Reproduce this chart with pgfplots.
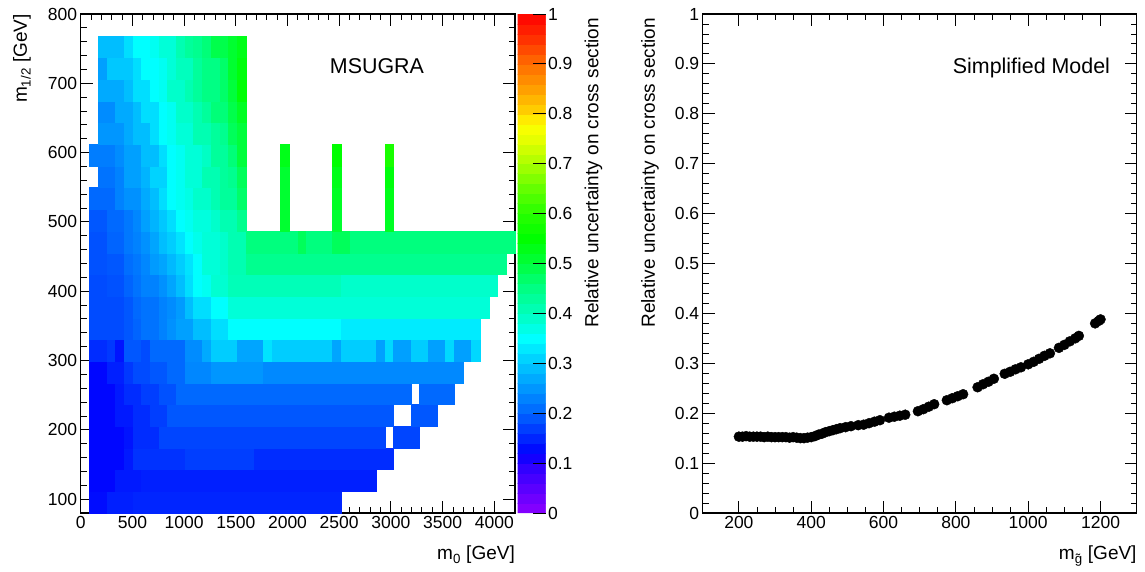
\documentclass[border=0pt]{standalone}
\usepackage{fontspec}
\setmainfont{Liberation Sans}
\usepackage{pgfplots}
\usepackage{pgfplotstable}
\pgfplotsset{compat=1.18}

% heat map cells: centre x, centre y, width (GeV), value
\pgfplotstableread{
x y w c
168 95.65 168 0.13
378 95.65 252 0.145
1512 95.65 2016 0.15
210 126.96 252 0.125
462 126.96 252 0.14
1722 126.96 2268 0.145
252 158.26 336 0.125
462 158.26 84 0.14
756 158.26 504 0.16
1344 158.26 672 0.17
2352 158.26 1344 0.155
252 189.57 336 0.125
462 189.57 84 0.135
630 189.57 252 0.155
1848 189.57 2184 0.175
3150 189.57 252 0.175
210 220.87 252 0.125
420 220.87 168 0.14
588 220.87 168 0.155
756 220.87 168 0.17
1932 220.87 2184 0.19
3318 220.87 252 0.19
210 252.17 252 0.125
378 252.17 84 0.14
504 252.17 168 0.155
672 252.17 168 0.17
840 252.17 168 0.185
2058 252.17 2268 0.205
3444 252.17 336 0.205
168 283.48 168 0.125
336 283.48 168 0.145
462 283.48 84 0.165
588 283.48 168 0.18
756 283.48 168 0.19
924 283.48 168 0.205
1134 283.48 252 0.235
1512 283.48 504 0.25
2730 283.48 1932 0.237
168 314.78 168 0.155
294 314.78 84 0.165
378 314.78 84 0.135
504 314.78 168 0.19
630 314.78 84 0.18
840 314.78 336 0.205
1092 314.78 168 0.24
1218 314.78 84 0.27
1386 314.78 252 0.305
1638 314.78 252 0.265
1806 314.78 84 0.325
2142 314.78 588 0.305
2478 314.78 84 0.265
2688 314.78 336 0.305
2898 314.78 84 0.26
2982 314.78 84 0.315
3108 314.78 168 0.26
3276 314.78 168 0.305
3444 314.78 168 0.26
3570 314.78 84 0.315
3696 314.78 168 0.26
3822 314.78 84 0.315
252 346.09 336 0.18
462 346.09 84 0.19
546 346.09 84 0.2
672 346.09 168 0.215
798 346.09 84 0.23
882 346.09 84 0.245
1008 346.09 168 0.26
1176 346.09 168 0.29
1344 346.09 168 0.32
1974 346.09 1092 0.35
3192 346.09 1344 0.332
252 377.39 336 0.18
462 377.39 84 0.19
546 377.39 84 0.205
672 377.39 168 0.215
798 377.39 84 0.23
882 377.39 84 0.24
966 377.39 84 0.255
1050 377.39 84 0.29
1176 377.39 168 0.32
1344 377.39 168 0.35
2688 377.39 2520 0.38
168 408.70 168 0.18
336 408.70 168 0.185
462 408.70 84 0.2
546 408.70 84 0.215
672 408.70 168 0.23
798 408.70 84 0.245
882 408.70 84 0.265
966 408.70 84 0.29
1050 408.70 84 0.32
1134 408.70 84 0.35
1218 408.70 84 0.36
1344 408.70 168 0.385
1974 408.70 1092 0.405
3276 408.70 1512 0.39
168 440.00 168 0.185
336 440.00 168 0.19
462 440.00 84 0.21
546 440.00 84 0.22
630 440.00 84 0.235
714 440.00 84 0.255
798 440.00 84 0.265
882 440.00 84 0.285
966 440.00 84 0.305
1050 440.00 84 0.325
1134 440.00 84 0.35
1260 440.00 168 0.38
1386 440.00 84 0.39
1512 440.00 168 0.41
2856 440.00 2520 0.44
168 471.30 168 0.185
336 471.30 168 0.2
462 471.30 84 0.22
546 471.30 84 0.23
630 471.30 84 0.245
714 471.30 84 0.265
798 471.30 84 0.29
882 471.30 84 0.305
966 471.30 84 0.325
1050 471.30 84 0.35
1134 471.30 84 0.365
1260 471.30 168 0.38
1386 471.30 84 0.39
1512 471.30 168 0.41
1848 471.30 504 0.455
2142 471.30 84 0.48
2310 471.30 252 0.455
2520 471.30 168 0.48
3402 471.30 1596 0.455
168 502.61 168 0.19
336 502.61 168 0.205
462 502.61 84 0.22
546 502.61 84 0.235
630 502.61 84 0.26
714 502.61 84 0.28
798 502.61 84 0.3
882 502.61 84 0.32
966 502.61 84 0.35
1050 502.61 84 0.36
1176 502.61 168 0.375
1302 502.61 84 0.39
1428 502.61 168 0.41
1554 502.61 84 0.44
1974 502.61 84 0.51
2478 502.61 84 0.51
2982 502.61 84 0.52
210 533.91 252 0.205
378 533.91 84 0.23
504 533.91 168 0.245
630 533.91 84 0.27
714 533.91 84 0.29
798 533.91 84 0.32
882 533.91 84 0.35
966 533.91 84 0.36
1050 533.91 84 0.37
1176 533.91 168 0.39
1302 533.91 84 0.41
1428 533.91 168 0.43
1554 533.91 84 0.47
1974 533.91 84 0.51
2478 533.91 84 0.52
2982 533.91 84 0.53
252 565.22 168 0.215
378 565.22 84 0.23
504 565.22 168 0.26
630 565.22 84 0.28
756 565.22 168 0.31
882 565.22 84 0.35
966 565.22 84 0.36
1092 565.22 168 0.38
1260 565.22 168 0.41
1386 565.22 84 0.43
1470 565.22 84 0.44
1554 565.22 84 0.48
1974 565.22 84 0.51
2478 565.22 84 0.53
2982 565.22 84 0.54
210 596.52 252 0.225
378 596.52 84 0.24
504 596.52 168 0.26
672 596.52 168 0.29
798 596.52 84 0.32
882 596.52 84 0.35
966 596.52 84 0.36
1092 596.52 168 0.38
1218 596.52 84 0.395
1344 596.52 168 0.43
1470 596.52 84 0.46
1554 596.52 84 0.5
1974 596.52 84 0.53
2478 596.52 84 0.55
2982 596.52 84 0.58
294 627.83 252 0.25
462 627.83 84 0.27
588 627.83 168 0.29
714 627.83 84 0.32
798 627.83 84 0.35
882 627.83 84 0.36
1008 627.83 168 0.38
1176 627.83 168 0.41
1302 627.83 84 0.43
1386 627.83 84 0.44
1470 627.83 84 0.48
1554 627.83 84 0.5
252 659.13 168 0.24
420 659.13 168 0.27
546 659.13 84 0.29
672 659.13 168 0.32
798 659.13 84 0.35
882 659.13 84 0.36
1008 659.13 168 0.39
1134 659.13 84 0.41
1218 659.13 84 0.43
1344 659.13 168 0.46
1470 659.13 84 0.49
1554 659.13 84 0.52
294 690.43 252 0.27
462 690.43 84 0.29
588 690.43 168 0.32
714 690.43 84 0.35
798 690.43 84 0.36
924 690.43 168 0.39
1050 690.43 84 0.41
1134 690.43 84 0.43
1260 690.43 168 0.45
1386 690.43 84 0.47
1470 690.43 84 0.5
1554 690.43 84 0.545
210 721.74 84 0.26
378 721.74 252 0.3
546 721.74 84 0.32
672 721.74 168 0.35
798 721.74 84 0.36
882 721.74 84 0.38
1008 721.74 168 0.4
1134 721.74 84 0.43
1260 721.74 168 0.45
1386 721.74 84 0.47
1470 721.74 84 0.51
1554 721.74 84 0.54
294 753.04 252 0.29
462 753.04 84 0.32
588 753.04 168 0.35
714 753.04 84 0.36
840 753.04 168 0.38
966 753.04 84 0.41
1050 753.04 84 0.43
1134 753.04 84 0.44
1218 753.04 84 0.46
1344 753.04 168 0.49
1470 753.04 84 0.51
1554 753.04 84 0.53
}\cells

\pgfplotstableread{
x y
200 0.153
210 0.153
220 0.154
230 0.153
240 0.153
250 0.153
260 0.153
270 0.152
280 0.153
290 0.152
300 0.152
310 0.152
320 0.152
330 0.152
340 0.151
350 0.152
360 0.151
370 0.150
380 0.150
390 0.151
400 0.152
410 0.154
420 0.157
430 0.159
440 0.162
450 0.164
460 0.166
470 0.168
480 0.170
495 0.172
510 0.174
530 0.176
545 0.177
560 0.180
575 0.183
590 0.186
615 0.191
630 0.193
645 0.195
660 0.197
695 0.204
710 0.208
725 0.213
740 0.218
775 0.226
790 0.230
805 0.234
820 0.238
860 0.252
875 0.258
890 0.263
905 0.269
935 0.279
950 0.283
965 0.288
980 0.292
1000 0.298
1015 0.303
1030 0.309
1045 0.315
1060 0.320
1085 0.331
1100 0.337
1115 0.344
1130 0.350
1140 0.355
1185 0.380
1195 0.385
1200 0.388
}\sms

\pgfdeclareplotmark{cell}{%
  \pgfpathrectangle{\pgfpoint{-0.5*\cellw pt}{-10.848pt}}{\pgfpoint{\cellw pt}{21.696pt}}%
  \pgfusepathqfillstroke}

\pgfplotsset{
  colormap={rootpal}{
    rgb255(0pt)=(140,0,255); rgb255(6pt)=(80,0,255); rgb255(10pt)=(40,0,255);
    rgb255(12pt)=(0,0,255); rgb255(20pt)=(0,100,255); rgb255(30pt)=(0,200,255);
    rgb255(35pt)=(0,255,255); rgb255(40pt)=(0,255,190); rgb255(46pt)=(0,255,120);
    rgb255(50pt)=(0,255,60); rgb255(55pt)=(0,255,0); rgb255(60pt)=(40,255,0);
    rgb255(65pt)=(100,255,0); rgb255(70pt)=(170,255,0); rgb255(75pt)=(230,255,0);
    rgb255(78pt)=(255,255,0); rgb255(80pt)=(255,215,0); rgb255(85pt)=(255,160,0);
    rgb255(90pt)=(255,110,0); rgb255(95pt)=(255,50,0); rgb255(100pt)=(255,0,0)},
  rootaxis/.style={
    scale only axis, enlargelimits=false, axis on top,
    axis line style={line width=1.1pt},
    tick style={black, line width=0.9pt},
    major tick length=12pt, minor tick length=6pt,
    tick align=inside,
    xticklabel pos=lower, yticklabel pos=left,
    /pgf/number format/assume math mode=true,
    /pgf/number format/1000 sep={},
    tick label style={font=\fontsize{17.5}{20}\selectfont},
    label style={font=\fontsize{19}{22}\selectfont},
    xlabel style={at={(axis description cs:1,-0.094)}, anchor=base east, inner sep=0pt},
  },
}

\begin{document}
\begin{tikzpicture}
\useasboundingbox (0,0) rectangle (1145pt,571pt);

\begin{axis}[
  rootaxis,
  at={(80.7pt,58pt)}, anchor=south west,
  width=434.3pt, height=499pt,
  xmin=0, xmax=4200, ymin=80, ymax=800,
  xtick={0,500,...,4000}, ytick={100,200,...,800},
  minor x tick num=4, minor y tick num=4,
  xlabel={m\textsubscript{0} [GeV]},
  ylabel={m\textsubscript{1/2} [GeV]},
  ylabel style={at={(axis description cs:-0.124,1)}, anchor=base east, inner sep=0pt},
  colormap name=rootpal,
  point meta min=0, point meta max=1,
  colorbar sampled,
  colorbar style={
    scale only axis, width=28pt, height=499pt,
    at={(parent axis.north east)}, anchor=north west, xshift=-6pt,
    samples=51, axis on top,
    ytick={0,0.1,...,1}, minor y tick num=0,
    ytick pos=right, yticklabel pos=right,
    tick align=inside, major tick length=13pt,
    tick style={black, line width=0.9pt},
    axis line style={draw=none},
    /pgf/number format/assume math mode=true,
    yticklabel style={font=\fontsize{17.5}{20}\selectfont, xshift=-1pt},
    ylabel={Relative uncertainty on cross section},
    ylabel style={font=\fontsize{19}{22}\selectfont, at={(axis description cs:2.89,0.992)}, anchor=base east, inner sep=0pt, rotate=0},
  },
]
\addplot[scatter, only marks, mark=cell, point meta=explicit,
  scatter/use mapped color={draw=mapped color, fill=mapped color},
  mark options={line width=0.3pt},
  visualization depends on={\thisrow{w}*0.1034048 \as \cellw}]
  table[x=x, y=y, meta=c] {\cells};
\node[font=\fontsize{21.4}{24}\selectfont, anchor=base] at (axis cs:2865,714.4) {MSUGRA};
\end{axis}

\begin{axis}[
  rootaxis,
  at={(702.7pt,58pt)}, anchor=south west,
  width=434pt, height=499pt,
  xmin=100, xmax=1300, ymin=0, ymax=1,
  xtick={200,400,...,1200}, ytick={0,0.1,...,1},
  minor x tick num=3, minor y tick num=4,
  xlabel={m\textsubscript{\~{g}} [GeV]},
  ylabel={Relative uncertainty on cross section},
  ylabel style={at={(axis description cs:-0.11,0.992)}, anchor=base east, inner sep=0pt},
]
\addplot[only marks, mark=*, mark size=5pt, black] table[x=x, y=y] {\sms};
\node[font=\fontsize{21.4}{24}\selectfont, anchor=base] at (axis cs:1009,0.8798) {Simplified Model};
\end{axis}
\end{tikzpicture}
\end{document}
